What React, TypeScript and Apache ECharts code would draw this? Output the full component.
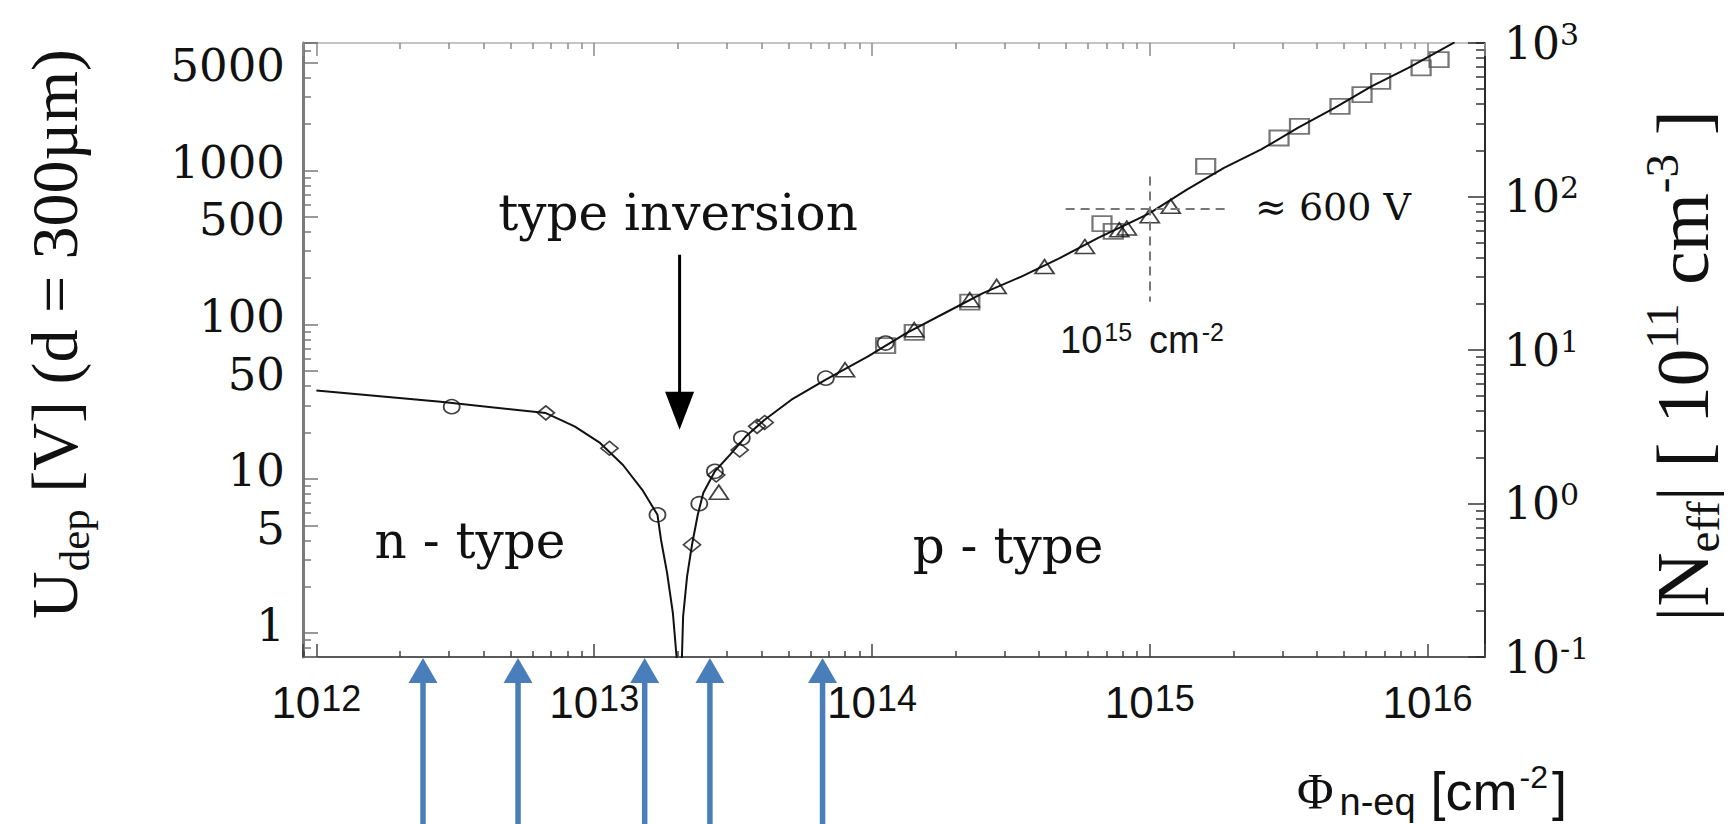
import React, { useEffect, useRef } from 'react';
import * as echarts from 'echarts';

// ---------- axis ranges ----------
const X_MIN = 8.95e11;
const X_MAX = 1.61e16;
const U_MIN = 0.7;
const U_MAX = 6700;
const N_MIN = 0.1;
const N_MAX = 1000;

// sub-decade tick factors
const xMinorFactors = [2, 3, 4, 5, 6, 7, 8, 9];
const leftMinorFactors = [2, 3, 4, 6, 7, 8, 9];
const leftLabelledFactor = 5;
const rightMinorFactors = [2, 3, 4, 5, 6, 7, 8, 9];

// ---------- data (fluence [cm^-2], U_dep [V]) ----------
const fitCurve: [number, number][] = [
  [1.0e12, 37.4], [2.8e12, 31.6], [6.7e12, 26.7], [8.5e12, 21.9], [1.05e13, 17.1],
  [1.27e13, 12.3], [1.49e13, 8.5], [1.69e13, 5.85], [1.74e13, 4.03], [1.83e13, 2.46],
  [1.92e13, 1.35], [1.98e13, 0.7], [2.03e13, 0.4], [2.07e13, 0.7], [2.09e13, 1.28],
  [2.16e13, 2.33], [2.25e13, 3.74], [2.36e13, 5.85], [2.47e13, 8.09], [2.72e13, 11.2],
  [3.08e13, 14.3], [3.51e13, 18.8], [4.11e13, 24.2], [5.13e13, 32.6], [6.82e13, 44.0],
  [9.68e13, 62.2], [1.33e14, 88.2], [1.83e14, 119], [2.51e14, 160], [3.45e14, 205],
  [4.74e14, 270], [6.52e14, 365], [8.96e14, 479], [1.0e15, 529], [1.36e15, 750],
  [1.85e15, 1037], [2.51e15, 1362], [3.41e15, 1884], [4.63e15, 2540], [6.28e15, 3510],
  [8.53e15, 4615], [1.25e16, 6760],
];
const circles: [number, number][] = [
  [3.07e12, 29.4], [1.69e13, 5.85], [2.39e13, 6.9], [2.72e13, 11.2], [3.4e13, 18.4],
  [6.82e13, 45.0], [1.12e14, 76],
];
const diamonds: [number, number][] = [
  [6.7e12, 26.8], [1.135e13, 15.8], [2.25e13, 3.74], [2.75e13, 10.6], [3.34e13, 15.4],
  [3.86e13, 21.9], [4.11e13, 23.2],
];
const triangles: [number, number][] = [
  [2.81e13, 8.2], [8.0e13, 51], [1.42e14, 92.7], [2.25e14, 145], [2.81e14, 177],
  [4.18e14, 238], [5.84e14, 321], [7.77e14, 412], [8.27e14, 423], [1.0e15, 508],
  [1.19e15, 585],
];
const squares: [number, number][] = [
  [1.12e14, 73], [1.42e14, 89], [2.25e14, 140], [6.73e14, 452], [7.39e14, 402],
  [1.59e15, 1062], [2.92e15, 1622], [3.46e15, 1929], [4.84e15, 2600], [5.81e15, 3098],
  [6.78e15, 3778], [9.48e15, 4617], [1.1e16, 5224],
];

// annotations
const blueArrowFluences = [2.42e12, 5.32e12, 1.52e13, 2.61e13, 6.64e13];
const inversionArrow = [2.03e13, 284, 20.8]; // fluence, shaft top U, tip U
const markFluence = 1e15;
const markFluenceSpanU = [141, 914];
const markVoltage = 562;
const markVoltageSpanX = [4.98e14, 1.93e15];

const SERIF = 'DejaVu Serif';
const TIMES = 'Liberation Serif';
const SANS = 'Liberation Sans';

const isPow10 = (v: number) => {
  const l = Math.log10(v);
  return Math.abs(l - Math.round(l)) < 1e-6;
};
const exp10 = (v: number) => Math.round(Math.log10(v));

function makeX(position: 'top' | 'bottom', factor: number, main: boolean) {
  const bottom = position === 'bottom';
  return {
    type: 'log',
    logBase: 10,
    position,
    gridIndex: 0,
    min: X_MIN / factor,
    max: X_MAX / factor,
    axisLine: {
      show: main,
      onZero: false,
      lineStyle: bottom ? { color: '#5a5a5a', width: 2 } : { color: '#c4c4c4', width: 2 },
    },
    axisTick: {
      show: true,
      inside: true,
      length: main ? 13 : 6,
      lineStyle: { color: bottom ? '#444' : '#8a8a8a', width: 1.5 },
    },
    axisLabel:
      main && bottom
        ? {
            show: true,
            margin: 23,
            formatter: (v: number) => (isPow10(v) ? `{a|10}{s|${exp10(v)}}` : ''),
            rich: {
              a: { fontFamily: SANS, fontSize: 44, lineHeight: 44, color: '#111' },
              s: { fontFamily: SANS, fontSize: 36, lineHeight: 22, color: '#111', verticalAlign: 'top', padding: [0, 0, 0, 1] },
            },
          }
        : { show: false },
    splitLine: { show: false },
    minorTick: { show: false },
    minorSplitLine: { show: false },
  };
}

function makeY(
  position: 'left' | 'right',
  min: number,
  max: number,
  factor: number,
  opts: { line?: any; tickLen: number; tickColor: string; label?: any }
) {
  return {
    type: 'log',
    logBase: 10,
    position,
    gridIndex: 0,
    min: min / factor,
    max: max / factor,
    axisLine: opts.line ? { show: true, onZero: false, lineStyle: opts.line } : { show: false, onZero: false },
    axisTick: { show: true, inside: true, length: opts.tickLen, lineStyle: { color: opts.tickColor, width: 1.5 } },
    axisLabel: opts.label ? opts.label : { show: false },
    splitLine: { show: false },
    minorTick: { show: false },
    minorSplitLine: { show: false },
  };
}

function buildOption() {
  const xAxis: any[] = [];
  xAxis.push(makeX('bottom', 1, true));
  xMinorFactors.forEach((k) => xAxis.push(makeX('bottom', k, false)));
  xAxis.push(makeX('top', 1, true));
  xMinorFactors.forEach((k) => xAxis.push(makeX('top', k, false)));

  const yAxis: any[] = [];
  // left main (index 0): labels 1, 10, 100, 1000 (lifted slightly above their ticks)
  yAxis.push(
    makeY('left', U_MIN, U_MAX, 1, {
      line: { color: '#7a7a7a', width: 3 },
      tickLen: 15,
      tickColor: '#777',
      label: {
        show: true,
        margin: 18,
        fontFamily: SERIF,
        fontSize: 45,
        color: '#111',
        verticalAlign: 'bottom',
        lineHeight: 16,
        formatter: (v: number) => (isPow10(v) ? String(Math.round(v)) : ''),
      },
    })
  );
  // left labelled factor axis: labels 5, 50, 500, 5000
  yAxis.push(
    makeY('left', U_MIN, U_MAX, leftLabelledFactor, {
      tickLen: 15,
      tickColor: '#777',
      label: {
        show: true,
        margin: 18,
        fontFamily: SERIF,
        fontSize: 45,
        color: '#111',
        verticalAlign: 'top',
        lineHeight: 6,
        formatter: (v: number) => (isPow10(v) ? String(Math.round(v * leftLabelledFactor)) : ''),
      },
    })
  );
  leftMinorFactors.forEach((k) => yAxis.push(makeY('left', U_MIN, U_MAX, k, { tickLen: 8, tickColor: '#777' })));
  // right axis (N_eff)
  yAxis.push(
    makeY('right', N_MIN, N_MAX, 1, {
      line: { color: '#2a2a2a', width: 2 },
      tickLen: 17,
      tickColor: '#333',
      label: {
        show: true,
        margin: 19,
        formatter: (v: number) => (isPow10(v) ? `{a|10}{s|${exp10(v)}}` : ''),
        rich: {
          a: { fontFamily: SERIF, fontSize: 44, lineHeight: 48, color: '#111' },
          s: { fontFamily: SERIF, fontSize: 30, lineHeight: 30, color: '#111', verticalAlign: 'top' },
        },
      },
    })
  );
  rightMinorFactors.forEach((k) => yAxis.push(makeY('right', N_MIN, N_MAX, k, { tickLen: 9, tickColor: '#333' })));

  const hollow = (border: string, w: number) => ({ color: 'rgba(0,0,0,0)', borderColor: border, borderWidth: w });

  return {
    animation: false,
    backgroundColor: '#ffffff',
    grid: { left: 303, top: 43, width: 1182, height: 614, containLabel: false, outerBoundsMode: 'none', show: false },
    xAxis,
    yAxis,
    series: [
      {
        type: 'line',
        name: 'fit',
        xAxisIndex: 0,
        yAxisIndex: 0,
        data: fitCurve,
        showSymbol: false,
        symbol: 'none',
        clip: true,
        z: 4,
        lineStyle: { color: '#111', width: 2 },
        emphasis: { disabled: true },
        markLine: {
          silent: true,
          symbol: ['none', 'none'],
          label: { show: false },
          emphasis: { disabled: true },
          lineStyle: { type: [9, 6], color: '#777', width: 2 },
          data: [
            [{ coord: [markFluence, markFluenceSpanU[1]] }, { coord: [markFluence, markFluenceSpanU[0]] }],
            [{ coord: [markVoltageSpanX[0], markVoltage] }, { coord: [markVoltageSpanX[1], markVoltage] }],
          ],
        },
      },
      {
        type: 'scatter', name: 'squares', xAxisIndex: 0, yAxisIndex: 0, data: squares,
        symbol: 'rect', symbolSize: [19, 15], itemStyle: hollow('#555', 2), z: 3,
      },
      {
        type: 'scatter', name: 'circles', xAxisIndex: 0, yAxisIndex: 0, data: circles,
        symbol: 'circle', symbolSize: [16, 14], itemStyle: hollow('#111', 1.7), z: 3,
      },
      {
        type: 'scatter', name: 'diamonds', xAxisIndex: 0, yAxisIndex: 0, data: diamonds,
        symbol: 'diamond', symbolSize: [17, 14], itemStyle: hollow('#111', 1.7), z: 3,
      },
      {
        type: 'scatter', name: 'triangles', xAxisIndex: 0, yAxisIndex: 0, data: triangles,
        symbol: 'triangle', symbolSize: [19, 14], itemStyle: hollow('#111', 1.7), z: 3,
      },
    ],
  };
}

function txt(x: number, y: number, text: string, style: any, extra: any = {}) {
  const align = style.align || 'left';
  const valign = style.verticalAlign || 'middle';
  return {
    type: 'text',
    x,
    y,
    silent: true,
    z: 60,
    ...extra,
    style: { fill: '#111', ...style, text, align, verticalAlign: valign, textAlign: align, textVerticalAlign: valign },
  };
}

function buildGraphics(chart: echarts.ECharts) {
  const g: any[] = [];
  const px = (x: number) => chart.convertToPixel({ xAxisIndex: 0 }, x) as number;
  const pt = (x: number, y: number) => chart.convertToPixel({ xAxisIndex: 0, yAxisIndex: 0 }, [x, y]) as number[];
  const axisBottom = chart.convertToPixel({ yAxisIndex: 0 }, U_MIN) as number;

  // blue arrows under the fluence axis
  const blue = '#4a7ebb';
  blueArrowFluences.forEach((f) => {
    const x = px(f);
    g.push({ type: 'rect', silent: true, z: 50, shape: { x: x - 2.75, y: axisBottom + 24, width: 5.5, height: 824 - axisBottom - 24 }, style: { fill: blue } });
    g.push({ type: 'polygon', silent: true, z: 50, shape: { points: [[x - 14.5, axisBottom + 26], [x + 14.5, axisBottom + 26], [x, axisBottom + 1]] }, style: { fill: blue } });
  });

  // type inversion arrow
  const top = pt(inversionArrow[0], inversionArrow[1]);
  const tip = pt(inversionArrow[0], inversionArrow[2]);
  g.push({ type: 'line', silent: true, z: 50, shape: { x1: top[0], y1: top[1], x2: tip[0], y2: tip[1] - 34 }, style: { stroke: '#000', lineWidth: 3 } });
  g.push({ type: 'polygon', silent: true, z: 50, shape: { points: [[tip[0] - 14.5, tip[1] - 38], [tip[0] + 14.5, tip[1] - 38], [tip[0], tip[1]]] }, style: { fill: '#000' } });

  // in-plot texts
  g.push(txt(678, 213, 'type inversion', { fontFamily: SERIF, fontSize: 50, align: 'center' }));
  g.push(txt(470, 541, 'n - type', { fontFamily: SERIF, fontSize: 50, align: 'center' }));
  g.push(txt(1008, 546, 'p - type', { fontFamily: SERIF, fontSize: 50, align: 'center' }));
  g.push(txt(1255, 207, '≈ 600 V', { fontFamily: SERIF, fontSize: 38 }));
  g.push(
    txt(1060, 340, '{a|10}{s1|15}{a|cm}{s|-2}', {
      rich: {
        a: { fontFamily: SANS, fontSize: 38, lineHeight: 42, fill: '#151515' },
        s1: { fontFamily: SANS, fontSize: 25, lineHeight: 26, fill: '#151515', verticalAlign: 'top', padding: [0, 17, 0, 2] },
        s: { fontFamily: SANS, fontSize: 25, lineHeight: 26, fill: '#151515', verticalAlign: 'top', padding: [0, 0, 0, 2] },
      },
    })
  );

  // x-axis title
  g.push(
    txt(1297, 761, '{f|Φ}{b|n-eq}{t| [cm}{p|-2}{t|]}', {
      verticalAlign: 'top',
      rich: {
        f: { fontFamily: TIMES, fontSize: 50, lineHeight: 60, fill: '#111' },
        b: { fontFamily: SANS, fontSize: 38, lineHeight: 38, fill: '#111', verticalAlign: 'bottom', padding: [0, 0, 0, 6] },
        t: { fontFamily: SANS, fontSize: 54, lineHeight: 60, fill: '#111' },
        p: { fontFamily: SANS, fontSize: 32, lineHeight: 24, fill: '#111', verticalAlign: 'top', padding: [0, 4, 0, 2] },
      },
    })
  );

  // left axis title (rotated)
  g.push(
    txt(
      54,
      334,
      '{m|U}{d|dep}{m| [V] (d = 300µm)}',
      {
        align: 'center',
        rich: {
          m: { fontFamily: TIMES, fontSize: 66, lineHeight: 84, fill: '#111' },
          d: { fontFamily: TIMES, fontSize: 43, lineHeight: 40, fill: '#111', verticalAlign: 'bottom' },
        },
      },
      { rotation: Math.PI / 2 }
    )
  );

  // right axis title (rotated)
  g.push(
    txt(
      1682,
      366,
      '{m||N}{s|eff}{m|| [ 10}{p|11}{m| cm}{p|-3}{m| ]}',
      {
        align: 'center',
        rich: {
          m: { fontFamily: TIMES, fontSize: 75, lineHeight: 88, fill: '#111' },
          s: { fontFamily: TIMES, fontSize: 47, lineHeight: 44, fill: '#111', verticalAlign: 'bottom' },
          p: { fontFamily: TIMES, fontSize: 47, lineHeight: 44, fill: '#111', verticalAlign: 'top' },
        },
      },
      { rotation: Math.PI / 2 }
    )
  );
  return g;
}

export default function App() {
  const ref = useRef<HTMLDivElement>(null);
  useEffect(() => {
    if (!ref.current) return;
    const chart = echarts.init(ref.current, undefined, { renderer: 'svg' });
    chart.setOption(buildOption() as any);
    chart.setOption({ graphic: buildGraphics(chart) } as any);
    return () => chart.dispose();
  }, []);
  return (
    <div
      ref={ref}
      style={{ position: 'fixed', left: 0, top: 0, width: '1728px', height: '824px', background: '#fff' }}
    />
  );
}
